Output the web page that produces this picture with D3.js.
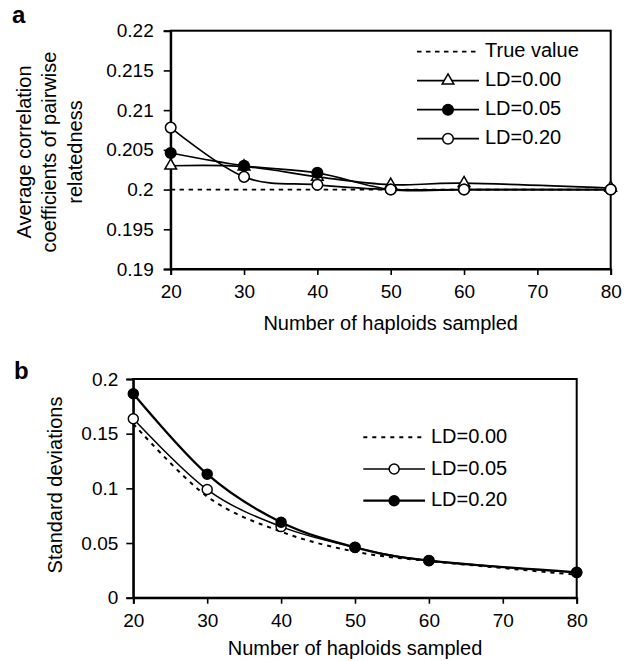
<!DOCTYPE html>
<html>
<head>
<meta charset="utf-8">
<script src="https://cdn.jsdelivr.net/npm/d3@7"></script>
<style>
  body { margin: 0; background: #fff; }
  svg { display: block; font-family: "Liberation Sans", Arial, sans-serif; }
</style>
</head>
<body>
<svg id="chart" width="629" height="661"></svg>
<script>
// x values shared by both panels
const haploids = [20, 30, 40, 50, 60, 80];
const xTicks = [20, 30, 40, 50, 60, 70, 80];

// panel a: average correlation coefficients
const trueValue = [0.2, 0.2, 0.2, 0.2, 0.2, 0.2];
const meanLD000 = [0.2030, 0.2029, 0.2016, 0.2006, 0.2008, 0.2002];
const meanLD005 = [0.2046, 0.2030, 0.2021, 0.2000, 0.2000, 0.2000];
const meanLD020 = [0.2078, 0.2016, 0.2006, 0.2000, 0.2000, 0.2000];
const meanTicks = [0.19, 0.195, 0.2, 0.205, 0.21, 0.215, 0.22];

// panel b: standard deviations
const sdLD000 = [0.159, 0.0925, 0.0604, 0.0421, 0.0335, 0.0210];
const sdLD005 = [0.1636, 0.0989, 0.0650, 0.0460, 0.0340, 0.0230];
const sdLD020 = [0.1865, 0.1130, 0.0690, 0.0461, 0.0339, 0.0232];
const sdTicks = [0, 0.05, 0.1, 0.15, 0.2];

const svg = d3.select("#chart");
const fmt = d => String(+d.toFixed(3));

function drawMarker(g, kind, x, y, r) {
  if (kind === "triangle") {
    g.append("path")
      .attr("d", d3.symbol(d3.symbolTriangle, r * r * 2.1)())
      .attr("transform", `translate(${x},${y})`)
      .attr("fill", "#fff")
      .attr("stroke", "#000")
      .attr("stroke-width", 1.5);
  } else if (kind === "filled" || kind === "open") {
    g.append("circle")
      .attr("cx", x).attr("cy", y).attr("r", r)
      .attr("fill", kind === "filled" ? "#000" : "#fff")
      .attr("stroke", "#000")
      .attr("stroke-width", 1.5);
  }
}

function drawPanel(opts) {
  const { left, right, top, bottom, yDomain, yTicks, series, legend } = opts;

  const x = d3.scaleLinear().domain([20, 80]).range([left, right]);
  const y = d3.scaleLinear().domain(yDomain).range([bottom, top]);

  const g = svg.append("g");

  // frame
  g.append("rect")
    .attr("x", left).attr("y", top)
    .attr("width", right - left).attr("height", bottom - top)
    .attr("fill", "none").attr("stroke", "#000").attr("stroke-width", 2);

  const yAxis = g.append("g")
    .attr("transform", `translate(${left},0)`)
    .call(d3.axisLeft(y).tickValues(yTicks).tickFormat(fmt).tickSize(7).tickPadding(opts.yPad));
  const xAxis = g.append("g")
    .attr("transform", `translate(0,${bottom})`)
    .call(d3.axisBottom(x).tickValues(xTicks).tickFormat(d3.format("d")).tickSize(6).tickPadding(9.5));

  [yAxis, xAxis].forEach(a => {
    a.select(".domain").attr("stroke-width", 2);
    a.selectAll(".tick line").attr("stroke-width", 1.6);
    a.selectAll(".tick text")
      .attr("font-family", "'Liberation Sans', Arial, sans-serif")
      .attr("font-size", 19).attr("fill", "#000");
  });

  // series lines (smoothed, like the original spreadsheet chart)
  const line = d3.line()
    .x((d, i) => x(haploids[i]))
    .y(d => y(d))
    .curve(d3.curveCatmullRom.alpha(0));

  series.forEach(s => {
    g.append("path")
      .attr("d", line(s.values))
      .attr("fill", "none")
      .attr("stroke", "#000")
      .attr("stroke-width", s.width)
      .attr("stroke-dasharray", s.dash || null);
  });
  series.forEach(s => {
    s.values.forEach((v, i) => drawMarker(g, s.marker, x(haploids[i]), y(v), s.r));
  });

  // legend
  legend.rows.forEach((s, i) => {
    const ly = legend.y + i * legend.step;
    g.append("line")
      .attr("x1", legend.x1).attr("x2", legend.x2)
      .attr("y1", ly).attr("y2", ly)
      .attr("stroke", "#000")
      .attr("stroke-width", s.width)
      .attr("stroke-dasharray", s.dash || null);
    drawMarker(g, s.marker, (legend.x1 + legend.x2) / 2, ly, s.r);
    g.append("text")
      .attr("x", legend.x2 + 6)
      .attr("y", ly - 1.5)
      .attr("dy", "0.35em")
      .attr("font-size", 20)
      .text(s.name);
  });

  // axis titles
  g.append("text")
    .attr("x", (left + right) / 2)
    .attr("y", opts.xTitleY)
    .attr("text-anchor", "middle")
    .attr("font-size", 20)
    .text("Number of haploids sampled");

  opts.yTitle.forEach((t, i) => {
    g.append("text")
      .attr("transform", `translate(${opts.yTitleX + i * 25.3},${opts.yTitleCy}) rotate(-90)`)
      .attr("text-anchor", "middle")
      .attr("font-size", 20)
      .text(t);
  });

  // panel letter
  g.append("text")
    .attr("x", opts.letterX).attr("y", opts.letterY)
    .attr("font-size", 24).attr("font-weight", "bold")
    .text(opts.letter);
}

const panelA = [
  { name: "True value", values: trueValue, marker: "none", width: 1.8, dash: "4.5,4.5", r: 0 },
  { name: "LD=0.00", values: meanLD000, marker: "triangle", width: 1.7, r: 5.3 },
  { name: "LD=0.05", values: meanLD005, marker: "filled", width: 1.7, r: 5.3 },
  { name: "LD=0.20", values: meanLD020, marker: "open", width: 1.7, r: 5.3 }
];

drawPanel({
  left: 170.7, right: 610.7, top: 30.7, bottom: 269,
  yDomain: [0.19, 0.22], yTicks: meanTicks, yPad: 10,
  series: panelA,
  legend: { rows: panelA, x1: 417, x2: 479, y: 51.7, step: 29 },
  xTitleY: 330,
  yTitle: ["Average correlation", "coefficients of pairwise", "relatedness"],
  yTitleX: 31, yTitleCy: 152,
  letter: "a", letterX: 12, letterY: 23
});

const panelB = [
  { name: "LD=0.00", values: sdLD000, marker: "none", width: 2, dash: "4,5", r: 0 },
  { name: "LD=0.05", values: sdLD005, marker: "open", width: 1.5, r: 5 },
  { name: "LD=0.20", values: sdLD020, marker: "filled", width: 2.3, r: 5 }
];

drawPanel({
  left: 133.3, right: 576.7, top: 379, bottom: 597.7,
  yDomain: [0, 0.2], yTicks: sdTicks, yPad: 8,
  series: panelB,
  legend: { rows: panelB, x1: 363.3, x2: 425, y: 437.3, step: 31.7 },
  xTitleY: 655,
  yTitle: ["Standard deviations"],
  yTitleX: 62, yTitleCy: 485,
  letter: "b", letterX: 14, letterY: 379
});
</script>
</body>
</html>
